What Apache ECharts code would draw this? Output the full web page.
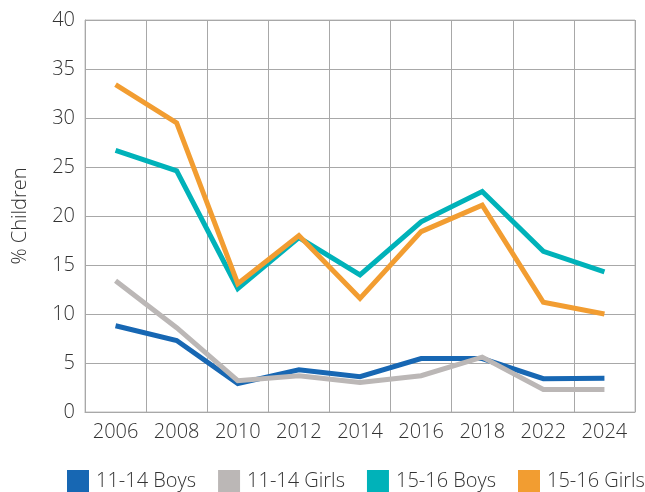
<!DOCTYPE html>
<html>
<head>
<meta charset="utf-8">
<script src="https://cdn.jsdelivr.net/npm/echarts@6/dist/echarts.min.js"></script>
<style>
	html, body { margin: 0; padding: 0; background: #fff; }
	#chart { width: 645px; height: 492px; }
</style>
</head>
<body>
<div id="chart"></div>
<script>
const years = ['2006', '2008', '2010', '2012', '2014', '2016', '2018', '2022', '2024'];
const boys1114 = [8.8, 7.3, 2.9, 4.3, 3.6, 5.45, 5.45, 3.4, 3.45];
const girls1114 = [13.4, 8.6, 3.2, 3.7, 3.0, 3.7, 5.6, 2.3, 2.3];
const boys1516 = [26.7, 24.6, 12.6, 17.8, 14.0, 19.4, 22.5, 16.4, 14.3];
const girls1516 = [33.4, 29.5, 13.1, 18.0, 11.6, 18.4, 21.1, 11.2, 10.0];
const yTicks = { min: 0, max: 40, interval: 5 };

const font = '"Open Sans", sans-serif',
	textColor = '#333',
	gridColor = '#a8a8a8';

const line = (name, data, color) => ({
	name,
	type: 'line',
	data,
	color,
	symbol: 'none',
	lineStyle: { width: 5, color, cap: 'butt', join: 'miter' },
	animation: false
});

const chart = echarts.init(document.getElementById('chart'), null, { renderer: 'canvas' });

chart.setOption({
	textStyle: { fontFamily: font, fontWeight: 300 },
	grid: {
		left: 85, right: 10, top: 20, bottom: 80,
		show: true, borderColor: '#c0c0c0', borderWidth: 1
	},
	legend: {
		top: 470,
		left: 67,
		width: 700,
		padding: 0,
		itemWidth: 22,
		itemHeight: 22,
		itemGap: 22,
		icon: 'rect',
		textStyle: { fontSize: 20, color: textColor, fontFamily: font, fontWeight: 300, padding: [0, 0, 0, 2] },
		data: ['11-14 Boys', '11-14 Girls', '15-16 Boys', '15-16 Girls']
	},
	xAxis: {
		type: 'category',
		data: years,
		boundaryGap: true,
		axisLine: { lineStyle: { color: gridColor } },
		axisTick: { show: false },
		axisLabel: { fontSize: 20, color: textColor, margin: 10, fontWeight: 300 },
		splitLine: { show: true, lineStyle: { color: gridColor, width: 1 } }
	},
	yAxis: {
		type: 'value',
		min: yTicks.min,
		max: yTicks.max,
		interval: yTicks.interval,
		name: '% Children',
		nameLocation: 'middle',
		nameGap: 55,
		nameTextStyle: { fontSize: 20, color: textColor, fontWeight: 300 },
		axisLine: { show: true, lineStyle: { color: gridColor } },
		axisTick: { show: false },
		axisLabel: { fontSize: 20, color: textColor, margin: 10, fontWeight: 300 },
		splitLine: { lineStyle: { color: gridColor, width: 1 } }
	},
	series: [
		line('11-14 Boys', boys1114, '#1767b3'),
		line('11-14 Girls', girls1114, '#bbb7b6'),
		line('15-16 Boys', boys1516, '#00b2b9'),
		line('15-16 Girls', girls1516, '#f29d31')
	]
});
</script>
</body>
</html>
